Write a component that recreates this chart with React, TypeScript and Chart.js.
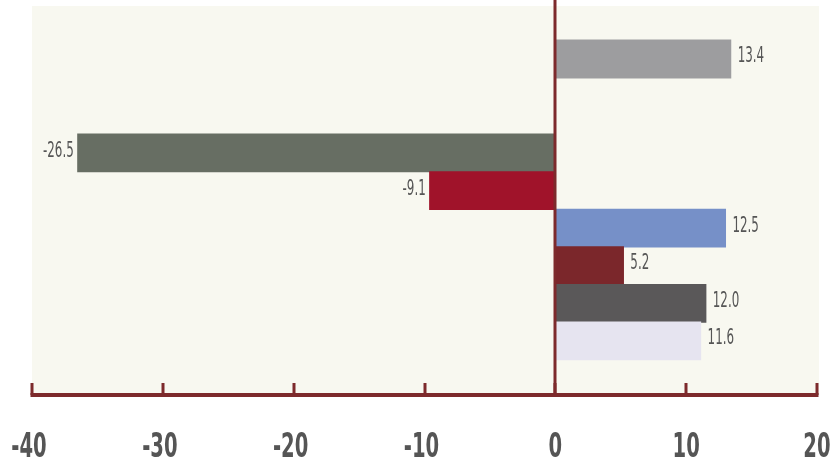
import React, { useEffect, useRef } from 'react';
import { Chart, registerables } from 'chart.js';

Chart.register(...registerables);

// bar lengths as drawn, and the value labels printed beside them
const barValues = [13.4, -36.5, -9.6, 13.0, 5.2, 11.5, 11.1];
const valueLabels = ['13.4', '-26.5', '-9.1', '12.5', '5.2', '12.0', '11.6'];
// row index of each bar on the vertical axis
const rowIndex = [0, 2.5, 3.5, 4.5, 5.5, 6.5, 7.5];
const barColors = ['#9d9d9f', '#676e63', '#a0132a', '#7690c8', '#7b272b', '#5a5859', '#e6e4f0'];
const xTicks = [-40, -30, -20, -10, 0, 10, 20];
const xTickLabels = ['-40', '-30', '-20', '-10', '0', '10', '20'];

const FONT = '"DejaVu Sans Condensed", "DejaVu Sans", sans-serif';
const AXIS_COLOR = '#7d2a2c';
const BG = '#f8f8f0';
const TEXT = '#555555';

const decorPlugin = {
  id: 'decor',
  beforeDraw(chart: any) {
    const { ctx, chartArea } = chart;
    ctx.save();
    ctx.fillStyle = BG;
    ctx.fillRect(chartArea.left, chartArea.top, chartArea.right - chartArea.left + 2, chartArea.bottom - chartArea.top);
    ctx.restore();
  },
  afterDatasetsDraw(chart: any) {
    const { ctx, chartArea } = chart;
    const xs = chart.scales.x;
    const meta = chart.getDatasetMeta(0);
    ctx.save();
    // value labels
    ctx.fillStyle = TEXT;
    ctx.font = `normal 21px ${FONT}`;
    ctx.textBaseline = 'middle';
    meta.data.forEach((el: any, i: number) => {
      const { x, y } = el.getProps(['x', 'y'], true);
      const v = barValues[i];
      ctx.save();
      if (v >= 0) {
        ctx.translate(x + 7, y - 2);
        ctx.textAlign = 'left';
      } else {
        ctx.translate(x - 4, y - 1);
        ctx.textAlign = 'right';
      }
      ctx.scale(0.63, 1);
      ctx.fillText(valueLabels[i], 0, 0);
      ctx.restore();
    });
    // zero line
    const x0 = Math.round(xs.getPixelForValue(0));
    ctx.strokeStyle = AXIS_COLOR;
    ctx.lineWidth = 3;
    ctx.beginPath();
    ctx.moveTo(x0, 0);
    ctx.lineTo(x0, chartArea.bottom);
    ctx.stroke();
    // bottom axis line
    ctx.lineWidth = 4;
    ctx.beginPath();
    ctx.moveTo(chartArea.left - 1.5, chartArea.bottom);
    ctx.lineTo(chartArea.right + 1.5, chartArea.bottom);
    ctx.stroke();
    // ticks pointing up
    ctx.lineWidth = 3;
    xTicks.forEach((t) => {
      const px = Math.round(xs.getPixelForValue(t));
      ctx.beginPath();
      ctx.moveTo(px, chartArea.bottom - 12);
      ctx.lineTo(px, chartArea.bottom);
      ctx.stroke();
    });
    // tick labels (condensed bold)
    ctx.fillStyle = TEXT;
    ctx.font = `bold 33px ${FONT}`;
    ctx.textAlign = 'center';
    ctx.textBaseline = 'middle';
    xTicks.forEach((t, i) => {
      const px = xs.getPixelForValue(t);
      ctx.save();
      ctx.translate(px - (t < 0 ? 3 : 0), xs.top + 53.5);
      ctx.scale(0.66, 1);
      ctx.fillText(xTickLabels[i], 0, 0);
      ctx.restore();
    });
    ctx.restore();
  },
};

export default function App() {
  const ref = useRef<HTMLCanvasElement | null>(null);
  useEffect(() => {
    if (!ref.current) return;
    const chart = new Chart(ref.current, {
      type: 'bar',
      data: {
        datasets: [
          {
            data: barValues.map((v, i) => ({ x: v, y: rowIndex[i] })),
            backgroundColor: barColors,
            borderWidth: 0,
            inflateAmount: 0.6,
            barPercentage: 1,
            categoryPercentage: 1,
          },
        ],
      },
      options: {
        indexAxis: 'y',
        animation: false,
        responsive: false,
        layout: { padding: { left: 32, right: 17, top: 6, bottom: 0 } },
        plugins: { legend: { display: false }, tooltip: { enabled: false } },
        scales: {
          x: {
            type: 'linear',
            position: 'bottom',
            min: -40,
            max: 20,
            afterBuildTicks: (scale: any) => {
              scale.ticks = xTicks.map((v) => ({ value: v }));
            },
            afterFit: (scale: any) => {
              scale.paddingLeft = 0;
              scale.paddingRight = 0;
              scale.height = 70;
            },
            grid: { display: false },
            border: { display: false },
            ticks: { display: false },
          },
          y: {
            type: 'linear',
            reverse: true,
            offset: false,
            min: -1.41,
            max: 8.94,
            display: false,
            afterBuildTicks: (scale: any) => {
              scale.ticks = rowIndex.map((v) => ({ value: v }));
            },
          },
        },
      } as any,
      plugins: [decorPlugin],
    });
    return () => chart.destroy();
  }, []);
  return (
    <div style={{ position: 'fixed', left: 0, top: 0, width: 834, height: 465, background: '#ffffff' }}>
      <canvas ref={ref} width={834} height={465} />
    </div>
  );
}
